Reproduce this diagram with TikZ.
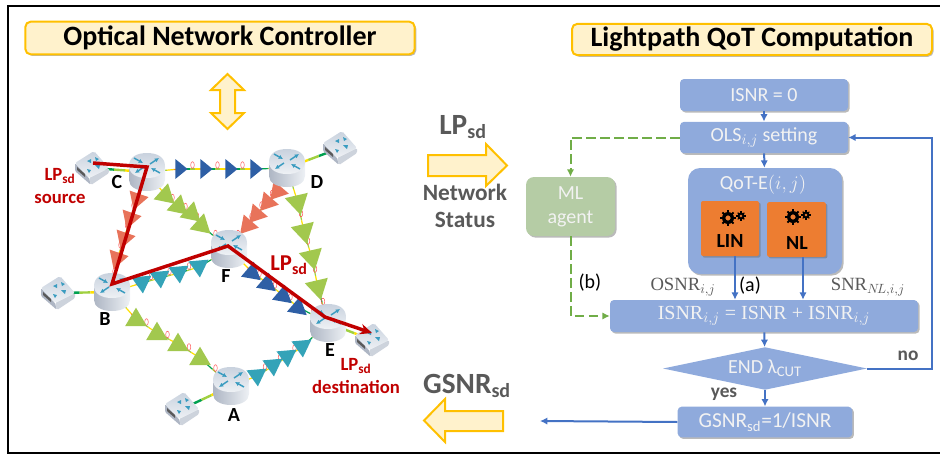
\documentclass[tikz,border=0pt]{standalone}
\usepackage{amsmath}
\usepackage{fontspec}
\setmainfont{Carlito}
\newfontfamily\cam{Liberation Serif}
\usetikzlibrary{calc,shapes.geometric,shadows,arrows.meta}
\definecolor{hdfill}{HTML}{FFF2CC}
\definecolor{hdline}{HTML}{FFC000}
\definecolor{flowblue}{HTML}{8FAADC}
\definecolor{arrowblue}{HTML}{4472C4}
\definecolor{mlgreen}{HTML}{B5CCA5}
\definecolor{dashgreen}{HTML}{70AD47}
\definecolor{boxorange}{HTML}{ED7D31}
\definecolor{lpred}{HTML}{C00000}
\definecolor{txtgray}{HTML}{595959}
\definecolor{mathgray}{HTML}{595959}
\definecolor{fa}{HTML}{2F75B5}
\definecolor{fb}{HTML}{00A050}
\definecolor{fc}{HTML}{A0D040}
\definecolor{fd}{HTML}{FFE000}
\definecolor{fe}{HTML}{FF9000}
\definecolor{ampblue}{HTML}{2E5FA5}
\definecolor{ampgreen}{HTML}{A2C84E}
\definecolor{ampred}{HTML}{E8735A}
\definecolor{ampteal}{HTML}{34A3B8}
\definecolor{rtarrow}{HTML}{3A9CC0}
\definecolor{rtdark}{HTML}{AEB6C4}
\definecolor{rtmid}{HTML}{CDD3DC}
\definecolor{rtlight}{HTML}{EEF1F5}
\definecolor{rttop}{HTML}{C9D2DE}
\tikzset{
  softshadow/.style={drop shadow={shadow xshift=1.2pt,shadow yshift=-1.2pt,fill=black!60,opacity=.45}},
  header/.style={draw=hdline,fill=hdfill,line width=1.5pt,rounded corners=4pt,softshadow,font=\fontsize{21}{23}\selectfont\bfseries,inner sep=0pt},
  flowbox/.style={fill=flowblue,rounded corners=3pt,softshadow,text=white!95!black,font=\fontsize{15}{17}\selectfont,inner sep=0pt},
  flowarrow/.style={draw=arrowblue,line width=1.5pt,-{Latex[length=5.5pt,width=5.5pt]}},
  dasharrow/.style={draw=dashgreen,line width=1.5pt,dash pattern=on 7pt off 3.5pt,-{Latex[length=5.5pt,width=5.5pt]}},
  blockarrow/.style={draw=hdline,fill=hdfill,line width=1.5pt,line join=miter},
  netlabel/.style={font=\fontsize{15}{17}\selectfont\bfseries,text=black,inner sep=0pt},
  redlabel/.style={font=\fontsize{14}{16}\selectfont\bfseries,text=lpred,inner sep=0pt,align=center},
  graylabel/.style={font=\fontsize{22}{24}\selectfont\bfseries,text=txtgray,inner sep=0pt,align=center},
  netstatus/.style={font=\fontsize{17.5}{19}\selectfont\bfseries,text=txtgray,inner sep=0pt,align=center},
  eqlabel/.style={font=\fontsize{14}{16}\selectfont\cam,text=mathgray,inner sep=0pt},
  worklabel/.style={font=\fontsize{15}{17}\selectfont\bfseries,text=black,inner sep=0pt},
  smalltxt/.style={font=\fontsize{14.5}{16}\selectfont\bfseries,text=txtgray,inner sep=0pt},
}
\newcommand\fibw{.9pt}
% one fibre span, coloured in pieces
\newcommand\fib[2]{%
  \foreach \tt/\cc [remember=\tt as \pp (initially 0)] in {0.2/fa,0.4/fb,0.6/fc,0.8/fd,1/fe}{%
    \draw[line width=\fibw,draw=\cc] ($(#1)!\pp!(#2)$) -- ($(#1)!\tt!(#2)$);}}
\newcommand\coil[2]{\draw[red!70,line width=.35pt] ($(#1)!.5!(#2)+(0,-4)$) ellipse (1.8 and 3.4);}
\newcommand\ampl[3]{\begin{scope}[shift={(#1)},rotate=#3]\fill[#2] (-6.5,-10) -- (10.5,0) -- (-6.5,10) -- cycle;\end{scope}}
% prefix, colour, angle, from, to, four amplifier positions
\newcommand\chain[9]{%
  \coordinate (#1a) at (#6); \coordinate (#1b) at (#7); \coordinate (#1c) at (#8); \coordinate (#1d) at (#9);
  \fib{#4}{#1a}\fib{#1a}{#1b}\fib{#1b}{#1c}\fib{#1c}{#1d}\fib{#1d}{#5}
  \coil{#1a}{#1b}\coil{#1b}{#1c}\coil{#1c}{#1d}\coil{#1d}{#5}
  \ampl{#1a}{#2}{#3}\ampl{#1b}{#2}{#3}\ampl{#1c}{#2}{#3}\ampl{#1d}{#2}{#3}}
\newcommand\routerbody[1]{\begin{scope}[shift={(#1)}]
  \path[left color=rtdark,right color=rtlight,middle color=rtmid]
    (-18,-6) -- (-18,8) .. controls (-18,15) and (-10,19) .. (0,19) .. controls (10,19) and (18,15) .. (18,8) -- (18,-6) -- cycle;
  \path[top color=rttop,bottom color=rtlight]
    (-18,-6) .. controls (-18,-15) and (-10,-19) .. (0,-19) .. controls (10,-19) and (18,-15) .. (18,-6)
    .. controls (18,2) and (10,6) .. (0,6) .. controls (-10,6) and (-18,2) .. (-18,-6) -- cycle;
  \draw[rtarrow,line width=1.1pt,-{Latex[length=3.2pt,width=3.4pt]}] (3,-8) -- (12,-14);
  \draw[rtarrow,line width=1.1pt,-{Latex[length=3.2pt,width=3.4pt]}] (-3,-5) -- (-12,1);
  \draw[rtarrow,line width=1.1pt,-{Latex[length=3.2pt,width=3.4pt]}] (-13,-14) -- (-4,-9);
  \draw[rtarrow,line width=1.1pt,-{Latex[length=3.2pt,width=3.4pt]}] (13,1) -- (4,-4);
\end{scope}}
\newcommand\hostbody[1]{\begin{scope}[shift={(#1)}]
  \path[fill=rtdark,rounded corners=1pt] (-17,-5) -- (-3,10) -- (-1,17) -- (-17,3) -- cycle;
  \path[fill=rtmid,rounded corners=1pt] (-3,10) -- (17,0) -- (17,5) -- (-1,17) -- cycle;
  \path[top color=rttop,bottom color=rtlight,rounded corners=1.5pt] (-17,-5) -- (2,-17) -- (17,0) -- (-3,10) -- cycle;
  \fill[rtarrow] (-5,-7) -- (-1,-9) -- (-1,-5) -- cycle;
  \fill[rtarrow] (3,-11) -- (7,-9) -- (4,-7) -- cycle;
  \fill[rtarrow] (-5,1) -- (-1,2) -- (-3,5) -- cycle;
  \fill[rtarrow] (3,-3) -- (8,-3) -- (7,1) -- cycle;
  \fill[black!65] (-15,-1) -- (-7,6) -- (-7,9) -- (-15,2) -- cycle;
\end{scope}}
\newcommand\gear[3]{\begin{scope}[shift={(#1)}]
  \foreach \aa in {0,45,...,315}{\draw[black,line width=#3,rotate=\aa] (0,#2*.8) -- (0,#2*1.3);}
  \fill[black,even odd rule] (0,0) circle (#2) (0,0) circle (#2*.45);
\end{scope}}
\begin{document}
\begin{tikzpicture}[x=0.75pt,y=-0.75pt]
\useasboundingbox (0,0) rectangle (940,454);
% frame
\coordinate (frTR) at (940,6); \coordinate (frTL) at (8,6); \coordinate (frBL) at (8,453); \coordinate (frBR) at (940,453);
\draw[black,line width=1.5pt] (frTR) -- (frTL) -- (frBL) -- (frBR);
% headers
\node[header,minimum width=292pt,minimum height=24.5pt] (hleft) at (220,38) {Optical Network Controller};
\node[header,minimum width=270pt,minimum height=23.5pt] (hright) at (752,39.5) {Lightpath QoT Computation};
% block arrows
\draw[blockarrow] (227.5,74) -- (244,90) -- (235,90) -- (235,113) -- (244,113) -- (227.5,129) -- (211,113) -- (220,113) -- (220,90) -- (211,90) -- cycle;
\draw[blockarrow] (428,155) -- (486,155) -- (486,144) -- (507,165.5) -- (486,186) -- (486,176) -- (428,176) -- cycle;
\draw[blockarrow] (503,411) -- (445,411) -- (445,399) -- (424,420.5) -- (445,442) -- (445,431) -- (503,431) -- cycle;
\node[graylabel] (lplab) at (463,127) {LP$_{\text{\fontsize{15}{16}\selectfont\bfseries sd}}$};
\node[netstatus] (netstat) at (465,206) {Network\\[1pt]Status};
\node[graylabel] (gsnrlab) at (467,386) {GSNR$_{\text{\fontsize{15}{16}\selectfont\bfseries sd}}$};
% network
\coordinate (C) at (147,172); \coordinate (D) at (287,168); \coordinate (F) at (229,249);
\coordinate (B) at (112,292); \coordinate (E) at (328,323); \coordinate (A) at (231,386);
\coordinate (hC) at (92,168); \coordinate (hD) at (340,148); \coordinate (hB) at (58,293);
\coordinate (hE) at (372,340); \coordinate (hA) at (182,409);
\renewcommand\fibw{1.8pt}
\fib{hC}{C}\fib{hD}{D}\fib{hB}{B}\fib{E}{hE}\fib{hA}{A}
\renewcommand\fibw{.9pt}
\chain{cd}{ampblue,xscale=.72}{0}{C}{D}{180,169}{205,169}{230,169}{255,169}
\chain{cf}{ampgreen,scale=1.08}{-42}{C}{F}{166,196}{179,207}{192,214}{202,226}
\chain{df}{ampred}{-131}{D}{F}{277,192}{267,203}{256,215}{247,226}
\chain{de}{ampgreen,scale=1.18}{-77}{D}{E}{298,203}{304,232}{312,258}{318,288}
\chain{cb}{ampred}{-109}{C}{B}{137,200}{130,219}{124,239}{117,259}
\chain{bf}{ampteal}{-85}{B}{F}{142,283}{160,278}{179,273}{199,267}
\chain{fe}{ampblue}{80}{F}{E}{252,272}{267,283}{283,295}{298,307}
\chain{ba}{ampgreen,scale=1.08}{90}{B}{A}{136,319}{157,333}{178,344}{200,358}
\chain{ae}{ampteal}{-85}{A}{E}{257,376}{273,366}{287,357}{302,347}
\routerbody{C}\routerbody{D}\routerbody{F}\routerbody{B}\routerbody{E}\routerbody{A}
\hostbody{hC}\hostbody{hD}\hostbody{hB}\hostbody{hE}\hostbody{hA}
% lightpath
\coordinate (p0) at (93,163); \coordinate (p1) at (147,167); \coordinate (p2) at (112,284);
\coordinate (p3) at (228,246); \coordinate (p4) at (325,317); \coordinate (p5) at (372,333);
\draw[lpred,line width=2.6pt,line join=miter,-{Stealth[length=9pt,width=8pt]}] (p0) -- (p1) -- (p2) -- (p3) -- (p4) -- (p5);
\node[netlabel] (lC) at (117,182) {C};
\node[netlabel] (lD) at (317,182) {D};
\node[netlabel] (lF) at (226,276) {F};
\node[netlabel] (lB) at (105,319) {B};
\node[netlabel] (lE) at (330,350) {E};
\node[netlabel] (lA) at (234,415) {A};
\node[redlabel] (lsrc) at (60,186) {LP$_{\text{\fontsize{10}{11}\selectfont\bfseries sd}}$\\[1pt]source};
\node[redlabel] (ldst) at (356,376) {LP$_{\text{\fontsize{10}{11}\selectfont\bfseries sd}}$\\[1pt]destination};
\node[redlabel,font=\fontsize{17}{19}\selectfont\bfseries] (lmid) at (289,265) {LP$_{\text{\fontsize{12}{13}\selectfont\bfseries sd}}$};
% flowchart
\node[flowbox,minimum width=126pt,minimum height=24pt] (isnrz) at (764,95) {ISNR = 0};
\node[flowbox,minimum width=126pt,minimum height=23.5pt] (ols) at (764,137.5) {OLS$_{i,j}$ setting};
\node[flowbox,rounded corners=9pt,minimum width=115.5pt,minimum height=79.5pt] (qot) at (765,221) {};
\node[inner sep=0pt,text=white!95!black,font=\fontsize{15}{17}\selectfont] (qotlab) at (763,185) {QoT-E$(i,j)$};
\node[flowbox,fill=boxorange,minimum width=43.5pt,minimum height=41.25pt,rounded corners=1.5pt] (lin) at (730,228.5) {};
\node[flowbox,fill=boxorange,minimum width=44pt,minimum height=41pt,rounded corners=1.5pt] (nl) at (796.5,229.5) {};
\gear{728,218}{6}{1.5pt}\gear{741,216}{3.6}{.8pt}
\gear{793,217}{6}{1.5pt}\gear{806,215}{3.6}{.8pt}
\node[worklabel] (tlin) at (730,241) {LIN};
\node[worklabel] (tnl) at (797,243) {NL};
\node[flowbox,minimum width=231pt,minimum height=24pt,font=\fontsize{15}{17}\selectfont\cam] (sum) at (764,316) {ISNR$_{i,j}$ = ISNR + ISNR$_{i,j}$};
\node[diamond,aspect=4.74,fill=flowblue,minimum width=153pt,minimum height=32pt,inner sep=0pt,text=white!95!black,font=\fontsize{15}{17}\selectfont] (endn) at (765,368.5) {END λ$_{\text{\fontsize{11}{12}\selectfont CUT}}$};
\node[flowbox,minimum width=131pt,minimum height=23pt,font=\fontsize{16}{18}\selectfont] (gsnr) at (765,422) {GSNR$_{\text{\fontsize{11}{12}\selectfont sd}}$=1/ISNR};
\node[flowbox,fill=mlgreen,rounded corners=6pt,minimum width=66.75pt,minimum height=44.25pt,align=center,font=\fontsize{15}{18}\selectfont] (ml) at (570.5,206.5) {ML\\agent};
\coordinate (gout) at (540,421);
\coordinate (nocorner) at (932,368.5);
\coordinate (dcorner) at (570.5,137.5);
\coordinate (bcorner) at (570.5,316);
\coordinate (linout) at ($(lin.south)+(5,0)$);
\coordinate (nlout) at ($(nl.south)+(6.5,0)$);
\draw[flowarrow] (isnrz) -- (ols);
\draw[flowarrow] (ols) -- (qot);
\draw[flowarrow] (linout) -- (linout |- sum.north);
\draw[flowarrow] (nlout) -- (nlout |- sum.north);
\draw[flowarrow] (sum) -- (endn);
\draw[flowarrow] (endn) -- (gsnr);
\draw[flowarrow] (gsnr.west) -- (gout);
\draw[flowarrow] (endn.east) -- (nocorner) |- (ols.east);
\draw[dasharrow] (ols.west) -- (dcorner) -- (ml.north);
\draw[dasharrow] (ml.south) -- (bcorner) -- (sum.west);
\node[inner sep=0pt,font=\fontsize{15}{17}\selectfont] (lb) at (590,283) {(b)};
\node[inner sep=0pt,font=\fontsize{15}{17}\selectfont] (la) at (750,286) {(a)};
\node[eqlabel] (losnr) at (683,287) {OSNR$_{i,j}$};
\node[eqlabel] (lsnr) at (868,287) {SNR$_{N\!L,i,j}$};
\node[smalltxt] (lno) at (908,356) {no};
\node[smalltxt] (lyes) at (724,394) {yes};
\end{tikzpicture}
\end{document}
